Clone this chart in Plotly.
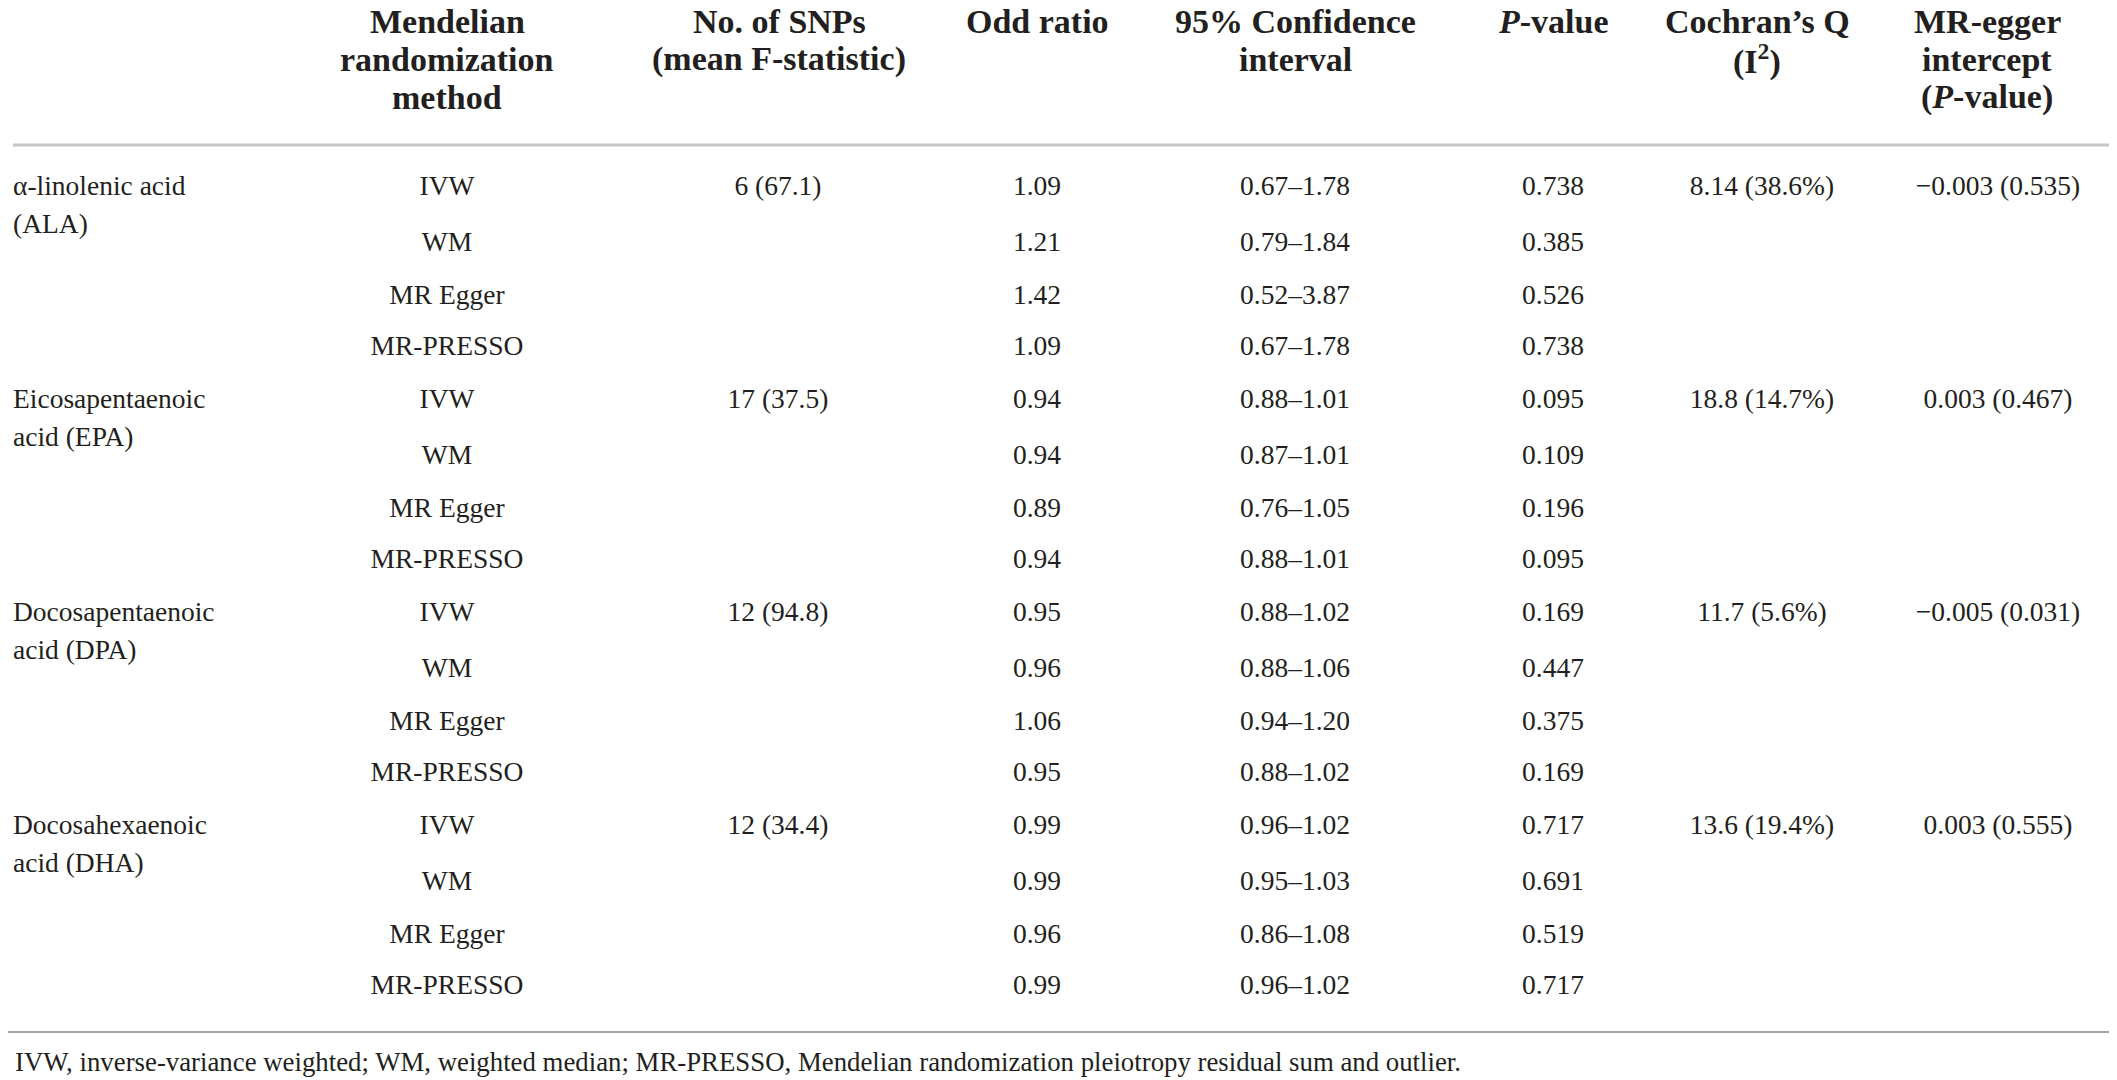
import plotly.graph_objects as go

# table values
groups = [["α-linolenic acid", "(ALA)"],
          ["Eicosapentaenoic", "acid (EPA)"],
          ["Docosapentaenoic", "acid (DPA)"],
          ["Docosahexaenoic", "acid (DHA)"]]
methods = ["IVW", "WM", "MR Egger", "MR-PRESSO"]
snps = ["6 (67.1)", "17 (37.5)", "12 (94.8)", "12 (34.4)"]
odds = [[1.09, 1.21, 1.42, 1.09],
        [0.94, 0.94, 0.89, 0.94],
        [0.95, 0.96, 1.06, 0.95],
        [0.99, 0.99, 0.96, 0.99]]
ci_low = [[0.67, 0.79, 0.52, 0.67],
          [0.88, 0.87, 0.76, 0.88],
          [0.88, 0.88, 0.94, 0.88],
          [0.96, 0.95, 0.86, 0.96]]
ci_high = [[1.78, 1.84, 3.87, 1.78],
           [1.01, 1.01, 1.05, 1.01],
           [1.02, 1.06, 1.20, 1.02],
           [1.02, 1.03, 1.08, 1.02]]
pvals = [[0.738, 0.385, 0.526, 0.738],
         [0.095, 0.109, 0.196, 0.095],
         [0.169, 0.447, 0.375, 0.169],
         [0.717, 0.691, 0.519, 0.717]]
cochran_q = ["8.14", "18.8", "11.7", "13.6"]
i2 = ["38.6", "14.7", "5.6", "19.4"]
egger_int = [-0.003, 0.003, -0.005, 0.003]
egger_p = [0.535, 0.467, 0.031, 0.555]

headers = [["Mendelian", "randomization", "method"],
           ["No. of SNPs", "(mean F-statistic)"],
           ["Odd ratio"],
           ["95% Confidence", "interval"],
           ["<i>P</i>-value"],
           ["Cochran’s Q", "(I<sup>2</sup>)"],
           ["MR-egger", "intercept", "(<i>P</i>-value)"]]
footnote = ("IVW, inverse-variance weighted; WM, weighted median; MR-PRESSO, "
            "Mendelian randomization pleiotropy residual sum and outlier.")

W, H = 2117, 1080
FONT = "Liberation Serif"
INK = "#231f20"
col_x = [439, 770, 1029, 1287, 1545, 1754, 1990]
head_x = [439, 771, 1029, 1287, 1545, 1749, 1979]
head_y = [13, 51, 89]
group_y = [180, 393, 606, 819]
row_off = [0, 56, 109, 160]

def fmt_neg(v):
    s = "{:.3f}".format(abs(v))
    return ("−" + s) if v < 0 else s

fig = go.Figure()

# body cells, one text trace per column
xs = {k: [] for k in range(7)}
ys = {k: [] for k in range(7)}
txt = {k: [] for k in range(7)}
for g in range(len(groups)):
    for i, m in enumerate(methods):
        y = group_y[g] + row_off[i]
        cells = [m, snps[g] if i == 0 else "",
                 "{:.2f}".format(odds[g][i]),
                 "{:.2f}–{:.2f}".format(ci_low[g][i], ci_high[g][i]),
                 "{:.3f}".format(pvals[g][i]),
                 "{} ({}%)".format(cochran_q[g], i2[g]) if i == 0 else "",
                 "{} ({:.3f})".format(fmt_neg(egger_int[g]), egger_p[g]) if i == 0 else ""]
        for k, c in enumerate(cells):
            if c:
                xs[k].append(col_x[k])
                ys[k].append(y)
                txt[k].append(c)

for k in range(7):
    fig.add_trace(go.Scatter(x=xs[k], y=ys[k], text=txt[k], mode="text",
                             textposition="middle center",
                             textfont=dict(family=FONT, size=27.5, color=INK),
                             hoverinfo="skip", showlegend=False))

# group labels (left aligned)
gx, gy, gt = [], [], []
for g, lines in enumerate(groups):
    for j, line in enumerate(lines):
        gx.append(5)
        gy.append(group_y[g] + 38 * j)
        gt.append(line)
fig.add_trace(go.Scatter(x=gx, y=gy, text=gt, mode="text",
                         textposition="middle right",
                         textfont=dict(family=FONT, size=27.5, color=INK),
                         hoverinfo="skip", showlegend=False))

# headers
for k, lines in enumerate(headers):
    for j, line in enumerate(lines):
        fig.add_annotation(x=head_x[k], y=head_y[j], text="<b>" + line + "</b>",
                           showarrow=False, xanchor="center", yanchor="middle",
                           font=dict(family=FONT, size=34, color=INK))

fig.add_annotation(x=5, y=1054, text=footnote, showarrow=False,
                   xanchor="left", yanchor="middle",
                   font=dict(family=FONT, size=26.8, color=INK))

# rules
fig.add_shape(type="line", x0=5, x1=W, y0=137, y1=137,
              line=dict(color="#c6c6c6", width=3))
fig.add_shape(type="line", x0=0, x1=W - 5, y0=1024, y1=1024,
              line=dict(color="#a3a3a3", width=2))

fig.update_xaxes(range=[0, W], visible=False, fixedrange=True)
fig.update_yaxes(range=[H, 0], visible=False, fixedrange=True)
fig.update_layout(width=W, height=H, margin=dict(l=0, r=0, t=0, b=0),
                  plot_bgcolor="white", paper_bgcolor="white")

fig.write_html("out.html")
